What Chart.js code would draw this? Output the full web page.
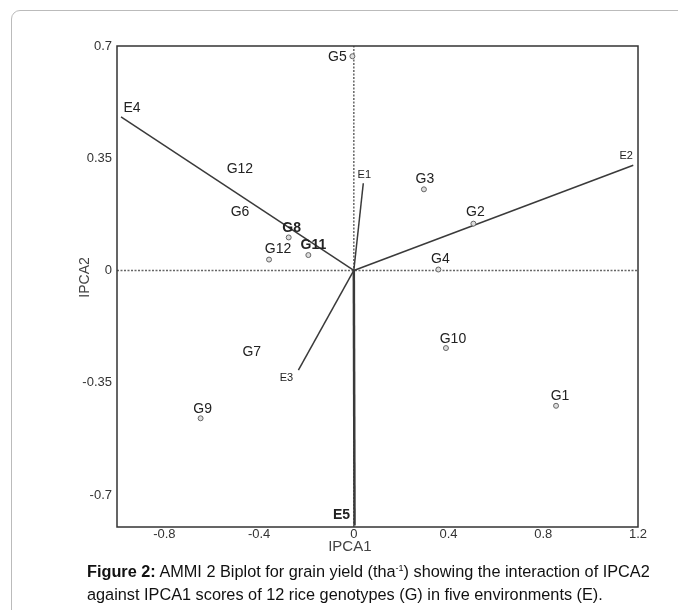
<!DOCTYPE html>
<html>
<head>
<meta charset="utf-8">
<script src="https://cdn.jsdelivr.net/npm/chart.js@4"></script>
<style>
  html, body { margin: 0; overflow: hidden; background: #fff; font-family: "Liberation Sans", Arial, sans-serif; }
  #frame { position: absolute; left: 11px; top: 10px; width: 760px; height: 660px; border: 1px solid #bbb; border-radius: 9px; }
  #wrap { position: absolute; left: 0; top: 0; }
  #cap { position: absolute; left: 87px; top: 557px; font-size: 16.3px; line-height: 23px; color: #111; white-space: nowrap; }
  #cap sup { font-size: 9px; }
</style>
</head>
<body>
<div id="frame"></div>
<div id="wrap"><canvas id="biplot" width="678" height="560"></canvas></div>
<div id="cap"><b>Figure 2:</b> AMMI 2 Biplot for grain yield (tha<sup>-1</sup>) showing the interaction of IPCA2<br>against IPCA1 scores of 12 rice genotypes (G) in five environments (E).</div>

<script>
// data genotip (G) dan lingkungan (E)
const gNames = ["G1", "G2", "G3", "G4", "G5", "G6", "G7", "G8", "G9", "G10", "G11", "G12", "G12"];
const gIPCA1 = [0.854, 0.505, 0.296, 0.357, -0.006, -0.417, -0.431, -0.275, -0.647, 0.389, -0.192, -0.358, -0.481];
const gIPCA2 = [-0.422, 0.146, 0.253, 0.003, 0.668, 0.2, -0.255, 0.103, -0.461, -0.242, 0.048, 0.034, 0.316];

const eNames = ["E1", "E2", "E3", "E4", "E5"];
const eIPCA1 = [0.04, 1.18, -0.234, -0.983, 0.003];
const eIPCA2 = [0.272, 0.328, -0.311, 0.479, -0.795];

const xTicks = [-0.8, -0.4, 0, 0.4, 0.8, 1.2];
const yTicks = [-0.7, -0.35, 0, 0.35, 0.7];
const xMin = -1.0, xMax = 1.2;
const yMin = -0.8, yMax = 0.7;

// tampilan label (offset piksel dari titik)
const gDot = [1, 1, 1, 1, 1, 0, 0, 1, 1, 1, 1, 1, 0];
const gDx = [4, 2, 1, 2, -15, -15, 0, 3, 2, 7, 5, 9, 0];
const gDy = [-10, -12, -10, -10, 1, 6, 0, -9, -9, -9, -10, -10, 0];
const gBold = [0, 0, 0, 0, 0, 0, 0, 1, 0, 0, 1, 0, 0];
const eDx = [1, -7, -12, 11, -13];
const eDy = [-8, -9, 8, -9, -10];
const eFont = ["11px", "11px", "11px", "14px", "bold 14px"];

const FONT = '"Liberation Sans", Arial, sans-serif';

const datasets = [];

// garis nol putus-putus
datasets.push({
  type: "line", data: [{ x: xMin, y: 0 }, { x: xMax, y: 0 }],
  borderColor: "#666", borderWidth: 1.5, borderDash: [2, 1.5], pointRadius: 0, order: 5,
});
datasets.push({
  type: "line", data: [{ x: 0, y: yMin }, { x: 0, y: yMax }],
  borderColor: "#666", borderWidth: 1.5, borderDash: [2, 1.5], pointRadius: 0, order: 5,
});

// vektor lingkungan
eNames.forEach((n, i) => {
  datasets.push({
    type: "line", label: n,
    data: [{ x: 0, y: 0 }, { x: eIPCA1[i], y: eIPCA2[i] }],
    borderColor: "#3a3a3a", borderWidth: n === "E5" ? 2.5 : 1.5,
    pointRadius: 0, order: 3,
  });
});

// titik genotip
datasets.push({
  type: "scatter", label: "genotypes",
  data: gNames.map((n, i) => ({ x: gIPCA1[i], y: gIPCA2[i] })),
  pointRadius: gDot.map(d => (d ? 2.5 : 0)),
  backgroundColor: "#ddd", borderColor: "#666", borderWidth: 1, order: 1,
});

const labelPlugin = {
  id: "labels",
  afterDatasetsDraw(chart) {
    const { ctx, chartArea: a, scales: { x, y } } = chart;
    ctx.save();
    ctx.textAlign = "center";
    ctx.textBaseline = "middle";

    gNames.forEach((n, i) => {
      ctx.font = (gBold[i] ? "bold " : "") + "14px " + FONT;
      ctx.fillStyle = "#222";
      ctx.fillText(n, x.getPixelForValue(gIPCA1[i]) + gDx[i], y.getPixelForValue(gIPCA2[i]) + gDy[i]);
    });
    eNames.forEach((n, i) => {
      ctx.font = eFont[i] + " " + FONT;
      ctx.fillStyle = "#222";
      ctx.fillText(n, x.getPixelForValue(eIPCA1[i]) + eDx[i], y.getPixelForValue(eIPCA2[i]) + eDy[i]);
    });

    // bingkai plot
    ctx.strokeStyle = "#333";
    ctx.lineWidth = 1.5;
    ctx.strokeRect(a.left, a.top, a.right - a.left, a.bottom - a.top);

    // judul sumbu
    ctx.fillStyle = "#444";
    ctx.font = "15px " + FONT;
    ctx.fillText("IPCA1", x.getPixelForValue(0) - 4, a.bottom + 20);
    ctx.font = "14px " + FONT;
    ctx.translate(85, y.getPixelForValue(0) + 7);
    ctx.rotate(-Math.PI / 2);
    ctx.fillText("IPCA2", 0, 0);
    ctx.restore();
  },
};

const biplot = new Chart(document.getElementById("biplot"), {
  type: "scatter",
  data: { datasets },
  options: {
    responsive: false,
    animation: false,
    devicePixelRatio: 1,
    layout: { padding: { left: 0, top: 46, right: 40, bottom: 0 } },
    plugins: { legend: { display: false }, tooltip: { enabled: false } },
    scales: {
      x: {
        type: "linear", min: xMin, max: xMax,
        afterBuildTicks: (s) => { s.ticks = xTicks.map(v => ({ value: v })); },
        afterFit: (s) => { s.height = 33; },
        grid: { display: false, drawTicks: false },
        border: { display: false },
        ticks: { color: "#333", font: { size: 13, family: FONT }, padding: 0, maxRotation: 0, autoSkip: false,
                 callback: (v) => String(v) },
      },
      y: {
        type: "linear", min: yMin, max: yMax,
        afterBuildTicks: (s) => { s.ticks = yTicks.map(v => ({ value: v })); },
        afterFit: (s) => { s.width = 117; },
        grid: { drawOnChartArea: false, drawTicks: true, tickLength: 3, color: "#fff" },
        border: { display: false },
        ticks: { color: "#333", font: { size: 13, family: FONT }, padding: 2, autoSkip: false,
                 callback: (v) => String(v) },
      },
    },
  },
  plugins: [labelPlugin],
});
</script>
</body>
</html>
